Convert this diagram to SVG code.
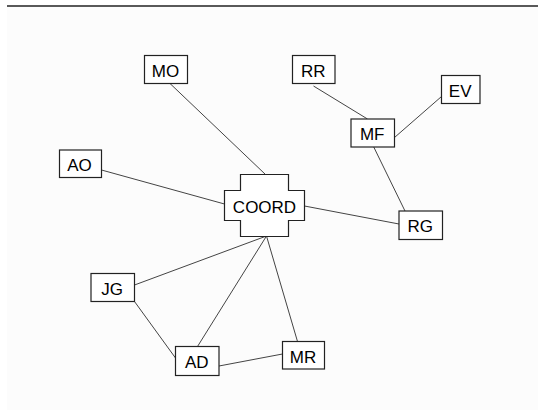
<svg xmlns="http://www.w3.org/2000/svg" width="538" height="410" viewBox="0 0 538 410">
<style>
.box{fill:#ffffff;stroke:#222;stroke-width:1.2}
.lbl{font-family:"Liberation Sans",Arial,sans-serif;font-size:17px;fill:#000;text-anchor:middle}
.edge{stroke:#444;stroke-width:1;fill:none}
</style>
<rect x="0" y="0" width="538" height="410" fill="#ffffff"/>
<rect x="7" y="7" width="531" height="403" fill="#fcfcfc"/>
<line x1="7" y1="6" x2="538" y2="6" stroke="#222" stroke-width="1.5"/>
<g id="edges">
<line class="edge" x1="170" y1="83.5" x2="265.5" y2="174.5"/>
<line class="edge" x1="101.5" y1="170" x2="224.5" y2="204"/>
<line class="edge" x1="304.5" y1="206" x2="399" y2="224"/>
<line class="edge" x1="313.5" y1="86" x2="367.5" y2="119"/>
<line class="edge" x1="441.5" y1="96.5" x2="394.5" y2="137.5"/>
<line class="edge" x1="373.5" y1="146.5" x2="405" y2="211"/>
<line class="edge" x1="266.5" y1="236" x2="134.5" y2="285"/>
<line class="edge" x1="266.5" y1="236" x2="197.5" y2="346.5"/>
<line class="edge" x1="266.5" y1="236" x2="297.5" y2="341.5"/>
<line class="edge" x1="134.5" y1="301.5" x2="175.5" y2="358"/>
<line class="edge" x1="219" y1="366" x2="282.5" y2="354"/>
</g>
<g id="COORD">
<path class="box" d="M240.5,174.5 H288.5 V190.5 H304.5 V220.5 H288.5 V236.5 H240.5 V220.5 H224.5 V190.5 H240.5 Z"/>
<text class="lbl" x="264.5" y="213" font-size="17.5">COORD</text>
</g>
<g id="MO">
<rect class="box" x="144.5" y="55.5" width="43" height="28"/>
<text class="lbl" x="165.5" y="76.5">MO</text>
</g>
<g id="RR">
<rect class="box" x="292.5" y="55.5" width="42.5" height="28"/>
<text class="lbl" x="313.2" y="76.5">RR</text>
</g>
<g id="EV">
<rect class="box" x="441.5" y="75.5" width="38.5" height="28"/>
<text class="lbl" x="460.2" y="96.5">EV</text>
</g>
<g id="MF">
<rect class="box" x="351" y="119" width="43.5" height="28"/>
<text class="lbl" x="372.2" y="140">MF</text>
</g>
<g id="AO">
<rect class="box" x="59.5" y="150" width="42" height="27.5"/>
<text class="lbl" x="79.5" y="171">AO</text>
</g>
<g id="RG">
<rect class="box" x="399" y="211" width="43.5" height="28.5"/>
<text class="lbl" x="420.2" y="232">RG</text>
</g>
<g id="JG">
<rect class="box" x="91" y="273.5" width="43.5" height="28"/>
<text class="lbl" x="112.2" y="294.5">JG</text>
</g>
<g id="AD">
<rect class="box" x="175.5" y="346.5" width="43.5" height="29"/>
<text class="lbl" x="196.7" y="368">AD</text>
</g>
<g id="MR">
<rect class="box" x="282.5" y="341.5" width="42" height="27.5"/>
<text class="lbl" x="303" y="362.5">MR</text>
</g>
</svg>
